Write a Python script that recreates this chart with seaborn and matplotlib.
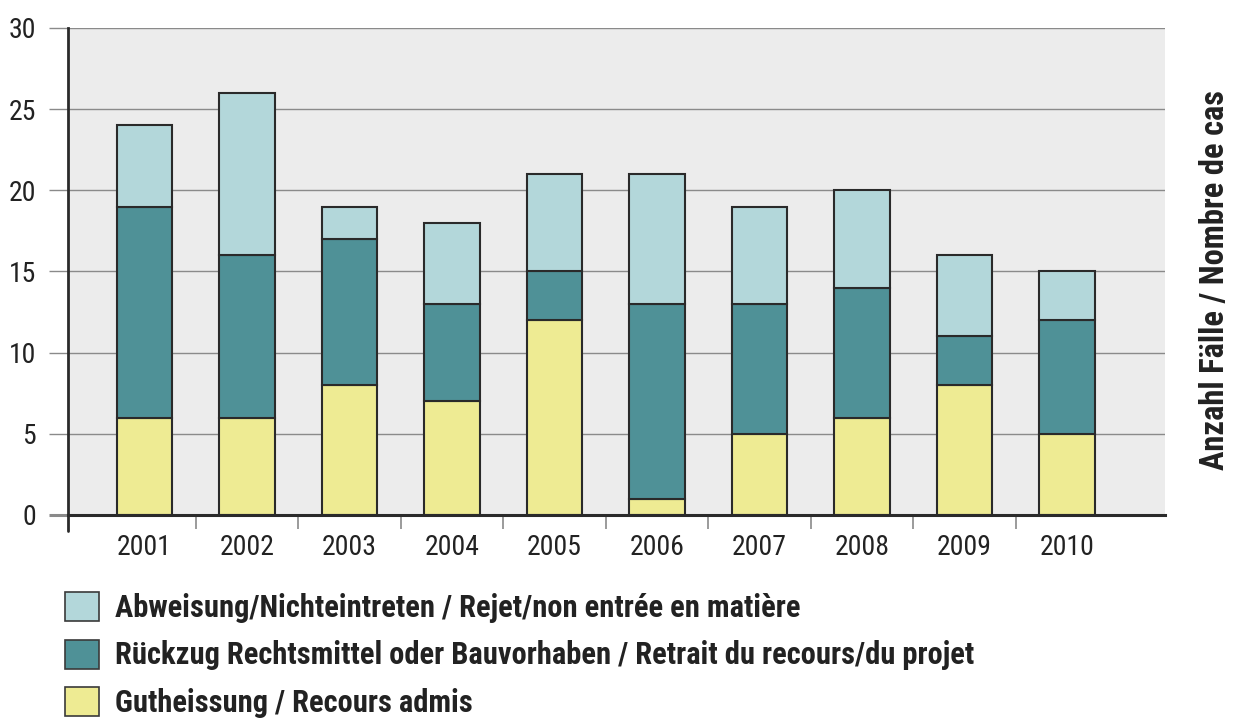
import numpy as np
import pandas as pd
import matplotlib
matplotlib.use("Agg")
import matplotlib.pyplot as plt
import matplotlib.patches as mpatches
from matplotlib import font_manager
from matplotlib.ticker import FixedLocator
import seaborn as sns

years = ["2001", "2002", "2003", "2004", "2005", "2006", "2007", "2008", "2009", "2010"]
gutheissung = [6, 6, 8, 7, 12, 1, 5, 6, 8, 5]
rueckzug = [13, 10, 9, 6, 3, 12, 8, 8, 3, 7]
abweisung = [5, 10, 2, 5, 6, 8, 6, 6, 5, 3]

labels = [
    "Abweisung/Nichteintreten / Rejet/non entrée en matière",
    "Rückzug Rechtsmittel oder Bauvorhaben / Retrait du recours/du projet",
    "Gutheissung / Recours admis",
]
colors = ["#b3d7da", "#4f9197", "#eeeb93"]
ylabel = "Anzahl Fälle / Nombre de cas"

sns.set_theme(style="white")

# narrow faces: regular and bold
weights = {}
for f in font_manager.fontManager.ttflist:
    w = f.weight if isinstance(f.weight, int) else {"bold": 700, "normal": 400}.get(f.weight, 400)
    weights.setdefault(f.name, set()).add(w)
pref = ["Liberation Sans Narrow", "Roboto Condensed", "Open Sans Condensed",
        "Noto Sans Condensed", "DejaVu Sans Condensed"]
names = pref + sorted(n for n in weights if ("Narrow" in n or "Condensed" in n) and n not in pref)
reg_font = None
bold_font = None
for n in names:
    if n in weights:
        if reg_font is None and any(350 <= w <= 500 for w in weights[n]):
            reg_font = n
        if bold_font is None and any(w >= 600 for w in weights[n]):
            bold_font = n
if reg_font is None:
    reg_font = "DejaVu Sans"
if bold_font is None:
    bold_font = reg_font
FAM = [reg_font, "DejaVu Sans"]
BFAM = [bold_font, "DejaVu Sans"]
plt.rcParams["font.family"] = FAM
TXT = "#222222"

df = pd.DataFrame({"year": years, "g": gutheissung, "r": rueckzug, "a": abweisung})
bottom_r = np.array(gutheissung)
bottom_a = bottom_r + np.array(rueckzug)

fig = plt.figure(figsize=(12.33, 7.24), dpi=100)
renderer = fig.canvas.get_renderer()


def fit_size(text, target_px, fam, weight="normal", base=20):
    t = fig.text(0, 0, text, fontsize=base, fontweight=weight, family=fam)
    w = t.get_window_extent(renderer).width
    t.remove()
    return base * target_px / w


tick_fs = min(fit_size("2001", 58, FAM), 20)
leg_fs = fit_size(labels[0], 683, BFAM, "bold")
ylab_fs = fit_size(ylabel, 380, BFAM, "bold")

ax = fig.add_axes([0.0552, 0.2887, 0.8897, 0.6727])
ax.set_facecolor("#ececec")

W = 0.54
edge = dict(edgecolor="#2a2a2a", linewidth=1.5)
sns.barplot(data=df, x="year", y="g", color=colors[2], width=W, ax=ax, saturation=1, **edge)
sns.barplot(data=df, x="year", y="r", bottom=bottom_r, color=colors[1], width=W, ax=ax, saturation=1, **edge)
sns.barplot(data=df, x="year", y="a", bottom=bottom_a, color=colors[0], width=W, ax=ax, saturation=1, **edge)

ax.set_xlim(-0.746, 9.956)
ax.set_ylim(0, 30)
ax.set_yticks([0, 5, 10, 15, 20, 25, 30])
ax.yaxis.grid(True, color="#8a8a8a", linewidth=1.0)
ax.xaxis.grid(False)
ax.set_axisbelow(True)

for s in ["top", "right"]:
    ax.spines[s].set_visible(False)
ax.spines["left"].set_color("#2a2a2a")
ax.spines["left"].set_linewidth(2.0)
ax.spines["bottom"].set_color("#2a2a2a")
ax.spines["bottom"].set_linewidth(2.2)

ax.tick_params(axis="y", which="major", length=14, width=1.0, color="#8a8a8a",
               labelsize=tick_fs, labelcolor=TXT, pad=9, left=True)
yt = ax.yaxis.get_major_ticks()
yt[0].tick1line.set_color("#2a2a2a")
yt[0].tick1line.set_markeredgewidth(2.2)

ax.tick_params(axis="x", which="major", length=0, labelsize=tick_fs, labelcolor=TXT, pad=14)
ax.xaxis.set_minor_locator(FixedLocator(np.arange(len(years) - 1) + 0.5))
ax.tick_params(axis="x", which="minor", length=10, width=1.2, color="#8a8a8a", bottom=True)

# extension of the left axis line below zero
ax.plot([0, 0], [0, -0.033], transform=ax.transAxes, color="#2a2a2a", lw=2.0, clip_on=False)

ax.set_xlabel("")
ax.set_ylabel("")
fig.text(0.985, 0.613, ylabel, rotation=90, ha="center", va="center",
         fontsize=ylab_fs, fontweight="bold", color=TXT, family=BFAM)

fs_px = leg_fs * 100 / 72
handles = [mpatches.Patch(facecolor=c, edgecolor="#3a3a3a", linewidth=1.2) for c in colors]
fig.legend(handles, labels, loc="center left", bbox_to_anchor=(0.0527, 0.0953),
           frameon=False, handlelength=34 / fs_px, handleheight=33 / fs_px,
           handletextpad=16 / fs_px, labelspacing=17 / fs_px,
           prop=dict(family=BFAM, size=leg_fs, weight="bold"),
           labelcolor=TXT, borderaxespad=0, borderpad=0)

fig.savefig("out.png", dpi=100)
